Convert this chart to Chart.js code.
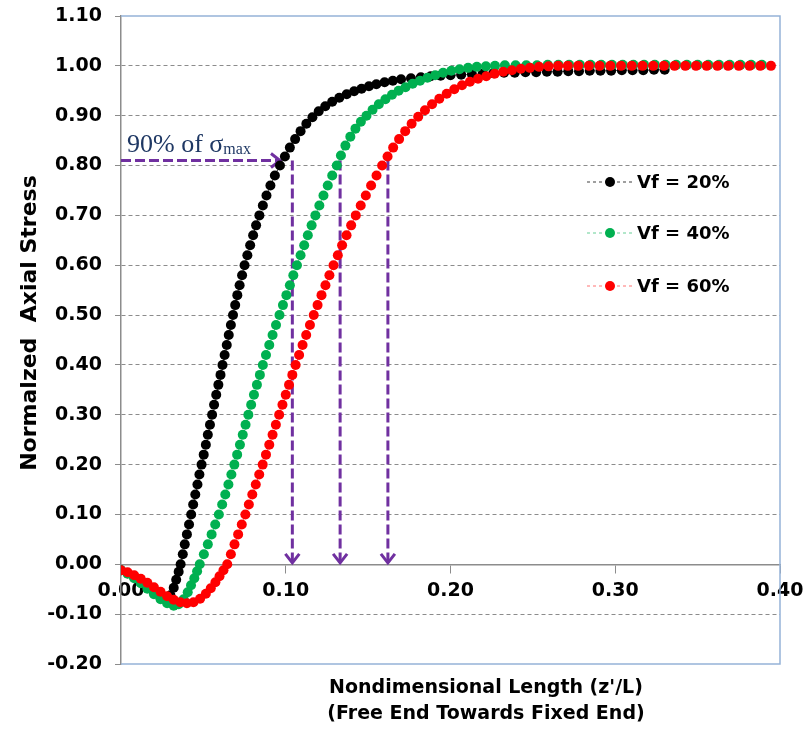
<!DOCTYPE html>
<html>
<head>
<meta charset="utf-8">
<script src="https://cdn.jsdelivr.net/npm/chart.js@4.4.1/dist/chart.umd.min.js"></script>
<style>
  html, body { margin: 0; padding: 0; background: #fff; }
  #wrap { width: 811px; height: 729px; }
</style>
</head>
<body>
<div id="wrap"><canvas id="chart" width="811" height="729"></canvas></div>
<script>
// ---- data ----
const seriesLabels = ['Vf = 20%', 'Vf = 40%', 'Vf = 60%'];

// [z'/L, normalized axial stress]
const vf20 = [
  [0.000,-0.012],[0.004,-0.018],[0.008,-0.026],[0.012,-0.035],[0.016,-0.046],[0.020,-0.057],
  [0.024,-0.066],[0.027,-0.070],[0.030,-0.062],[0.032,-0.047],[0.0335,-0.031],[0.035,-0.015],
  [0.0362,0.000],[0.0375,0.02],[0.0387,0.04],[0.0400,0.06],[0.0413,0.08],[0.0426,0.10],
  [0.0438,0.12],[0.0451,0.14],[0.0464,0.16],[0.0476,0.18],[0.0489,0.20],[0.0502,0.22],
  [0.0515,0.24],[0.0527,0.26],[0.0540,0.28],[0.0553,0.30],[0.0565,0.32],[0.0578,0.34],
  [0.0591,0.36],[0.0604,0.38],[0.0616,0.40],[0.0629,0.42],[0.0642,0.44],[0.0654,0.46],
  [0.0667,0.48],[0.0680,0.50],[0.0693,0.52],[0.0706,0.54],[0.0720,0.56],[0.0735,0.58],
  [0.0750,0.60],[0.0767,0.62],[0.0784,0.64],[0.0802,0.66],[0.0820,0.68],[0.0840,0.70],
  [0.0861,0.72],[0.0883,0.74],[0.0907,0.76],[0.0934,0.78],[0.0965,0.80],[0.0995,0.818],
  [0.1025,0.836],[0.1057,0.853],[0.1090,0.869],[0.1125,0.884],[0.1162,0.897],[0.1200,0.909],
  [0.1240,0.919],[0.1282,0.928],[0.1325,0.936],[0.1370,0.943],[0.1415,0.949],[0.1460,0.954],
  [0.1505,0.959],[0.1550,0.963],[0.1600,0.967],[0.1650,0.970],[0.1700,0.973],[0.1760,0.975],
  [0.1820,0.977],[0.1880,0.979],[0.1940,0.980],[0.2000,0.981],[0.2065,0.982],[0.2130,0.983],
  [0.2195,0.984],[0.2260,0.985],[0.2325,0.986],[0.2390,0.986],[0.2455,0.987],[0.2520,0.987],
  [0.2585,0.988],[0.2650,0.988],[0.2715,0.989],[0.2780,0.989],[0.2845,0.990],[0.2910,0.990],
  [0.2975,0.990],[0.3040,0.991],[0.3105,0.991],[0.3170,0.991],[0.3235,0.992],[0.3300,0.992]
];

const vf40 = [
  [0.000,-0.012],[0.004,-0.019],[0.008,-0.028],[0.012,-0.038],[0.016,-0.049],[0.020,-0.060],
  [0.024,-0.070],[0.028,-0.078],[0.032,-0.083],[0.035,-0.080],[0.038,-0.070],[0.0405,-0.056],
  [0.0425,-0.042],[0.0445,-0.028],[0.0462,-0.014],[0.0478,0.000],[0.0503,0.02],[0.0527,0.04],
  [0.0550,0.06],[0.0572,0.08],[0.0594,0.10],[0.0614,0.12],[0.0633,0.14],[0.0652,0.16],
  [0.0670,0.18],[0.0688,0.20],[0.0705,0.22],[0.0722,0.24],[0.0739,0.26],[0.0756,0.28],
  [0.0773,0.30],[0.0790,0.32],[0.0807,0.34],[0.0825,0.36],[0.0843,0.38],[0.0861,0.40],
  [0.0880,0.42],[0.0900,0.44],[0.0920,0.46],[0.0941,0.48],[0.0962,0.50],[0.0983,0.52],
  [0.1004,0.54],[0.1025,0.56],[0.1046,0.58],[0.1068,0.60],[0.1090,0.62],[0.1112,0.64],
  [0.1134,0.66],[0.1157,0.68],[0.1180,0.70],[0.1204,0.72],[0.1229,0.74],[0.1255,0.76],
  [0.1282,0.78],[0.1310,0.80],[0.1335,0.820],[0.1362,0.840],[0.1392,0.858],[0.1423,0.874],
  [0.1456,0.888],[0.1490,0.900],[0.1527,0.912],[0.1565,0.923],[0.1605,0.933],[0.1645,0.942],
  [0.1685,0.950],[0.1727,0.957],[0.1770,0.964],[0.1815,0.970],[0.1860,0.976],[0.1907,0.981],
  [0.1955,0.986],[0.2005,0.990],[0.2055,0.993],[0.2107,0.996],[0.2160,0.998],[0.2215,0.999],
  [0.2270,1.000],[0.2330,1.001],[0.2395,1.001],[0.2460,1.001],[0.2525,1.001],[0.2590,1.002],
  [0.2655,1.002],[0.2720,1.002],[0.2785,1.002],[0.2850,1.002],[0.2915,1.002],[0.2980,1.002],
  [0.3045,1.002],[0.3110,1.002],[0.3175,1.002],[0.3240,1.002],[0.3305,1.002],[0.3370,1.002],
  [0.3435,1.002],[0.3500,1.002],[0.3565,1.002],[0.3630,1.002],[0.3695,1.002],[0.3760,1.002],
  [0.3825,1.002],[0.3890,1.002]
];

const vf60 = [
  [0.000,-0.012],[0.004,-0.016],[0.008,-0.022],[0.012,-0.029],[0.016,-0.037],[0.020,-0.046],
  [0.024,-0.055],[0.028,-0.064],[0.032,-0.071],[0.036,-0.076],[0.040,-0.078],[0.044,-0.076],
  [0.048,-0.069],[0.0515,-0.059],[0.0545,-0.048],[0.0573,-0.036],[0.0598,-0.024],[0.0622,-0.012],
  [0.0645,0.000],[0.0667,0.02],[0.0689,0.04],[0.0711,0.06],[0.0733,0.08],[0.0755,0.10],
  [0.0776,0.12],[0.0797,0.14],[0.0818,0.16],[0.0839,0.18],[0.0860,0.20],[0.0880,0.22],
  [0.0900,0.24],[0.0920,0.26],[0.0940,0.28],[0.0960,0.30],[0.0980,0.32],[0.1000,0.34],
  [0.1020,0.36],[0.1040,0.38],[0.1060,0.40],[0.1081,0.42],[0.1102,0.44],[0.1124,0.46],
  [0.1147,0.48],[0.1170,0.50],[0.1193,0.52],[0.1217,0.54],[0.1241,0.56],[0.1265,0.58],
  [0.1290,0.60],[0.1316,0.62],[0.1342,0.64],[0.1369,0.66],[0.1397,0.68],[0.1425,0.70],
  [0.1455,0.72],[0.1486,0.74],[0.1518,0.76],[0.1551,0.78],[0.1585,0.80],[0.1618,0.818],
  [0.1652,0.836],[0.1688,0.853],[0.1725,0.869],[0.1764,0.884],[0.1804,0.898],[0.1845,0.911],
  [0.1888,0.923],[0.1932,0.934],[0.1977,0.944],[0.2023,0.953],[0.2070,0.961],[0.2118,0.968],
  [0.2167,0.974],[0.2217,0.979],[0.2268,0.984],[0.2320,0.988],[0.2373,0.991],[0.2427,0.994],
  [0.2482,0.996],[0.2538,0.998],[0.2595,0.999],[0.2653,1.000],[0.2712,1.000],[0.2775,1.000],
  [0.2840,1.000],[0.2905,1.000],[0.2970,1.000],[0.3035,1.000],[0.3100,1.000],[0.3165,1.000],
  [0.3230,1.000],[0.3295,1.000],[0.3360,1.000],[0.3425,1.000],[0.3490,1.000],[0.3555,1.000],
  [0.3620,1.000],[0.3685,1.000],[0.3750,1.000],[0.3815,1.000],[0.3880,1.000],[0.3945,1.000]
];

// axes
const xMin = 0, xMax = 0.40, xStep = 0.10;
const yMin = -0.20, yMax = 1.10, yStep = 0.10;

// "90% of sigma max" guide arrows
const guideLevel = 0.81;
const guideHorizontalEnd = 0.0965;
const guideDropX = [0.104, 0.133, 0.162];
const guideDropEnd = 0.003;

const seriesColors = ['#000000', '#00b050', '#ff0000'];
const lineColors = ['rgba(0,0,0,0.75)', 'rgba(0,176,80,0.6)', 'rgba(255,0,0,0.55)'];
const PURPLE = '#7030a0';
const GRID = '#8c8c8c';
const FONT = '"DejaVu Sans", sans-serif';

function arrow(ctx, x1, y1, x2, y2) {
  ctx.save();
  ctx.strokeStyle = PURPLE;
  ctx.lineWidth = 3;
  ctx.setLineDash([10, 4]);
  ctx.beginPath();
  ctx.moveTo(x1, y1);
  ctx.lineTo(x2, y2);
  ctx.stroke();
  // open chevron head
  const len = Math.hypot(x2 - x1, y2 - y1);
  const dx = (x2 - x1) / len, dy = (y2 - y1) / len;
  const nx = -dy, ny = dx;
  ctx.setLineDash([]);
  ctx.lineJoin = 'miter';
  ctx.beginPath();
  ctx.moveTo(x2 - dx * 9 + nx * 7, y2 - dy * 9 + ny * 7);
  ctx.lineTo(x2, y2);
  ctx.lineTo(x2 - dx * 9 - nx * 7, y2 - dy * 9 - ny * 7);
  ctx.stroke();
  ctx.restore();
}

const decorations = {
  id: 'decorations',
  beforeDatasetsDraw(chart) {
    const { ctx, chartArea: a, scales: { x, y } } = chart;
    // plot frame (top, right, bottom)
    ctx.save();
    ctx.strokeStyle = '#95b3d7';
    ctx.lineWidth = 1.5;
    ctx.beginPath();
    ctx.moveTo(a.left, a.top);
    ctx.lineTo(a.right, a.top);
    ctx.lineTo(a.right, a.bottom);
    ctx.lineTo(a.left, a.bottom);
    ctx.stroke();
    ctx.restore();

    const gy = y.getPixelForValue(guideLevel);
    arrow(ctx, x.getPixelForValue(0), gy, x.getPixelForValue(guideHorizontalEnd), gy);
    guideDropX.forEach(v => {
      const px = x.getPixelForValue(v);
      arrow(ctx, px, gy, px, y.getPixelForValue(guideDropEnd));
    });

    ctx.save();
    ctx.fillStyle = '#1f3864';
    ctx.textBaseline = 'alphabetic';
    ctx.font = '26px "Liberation Serif", serif';
    const tx = a.left + 6, ty = gy - 9;
    ctx.fillText('90% of σ', tx, ty);
    const w = ctx.measureText('90% of σ').width;
    ctx.font = '16px "Liberation Serif", serif';
    ctx.fillText('max', tx + w, ty + 2);
    ctx.restore();
  },
  afterDatasetsDraw(chart) {
    const { ctx, chartArea: a } = chart;
    const rows = [166, 217, 270];
    chart.data.datasets.forEach((ds, i) => {
      const yy = a.top + rows[i];
      const x0 = a.right - 193;
      ctx.save();
      ctx.strokeStyle = lineColors[i];
      ctx.lineWidth = 1;
      ctx.setLineDash([3, 3]);
      ctx.beginPath();
      ctx.moveTo(x0, yy);
      ctx.lineTo(x0 + 45, yy);
      ctx.stroke();
      ctx.setLineDash([]);
      ctx.fillStyle = seriesColors[i];
      ctx.beginPath();
      ctx.arc(x0 + 23, yy, 5, 0, Math.PI * 2);
      ctx.fill();
      ctx.fillStyle = '#000';
      ctx.font = 'bold 18px ' + FONT;
      ctx.textBaseline = 'middle';
      ctx.fillText(ds.label, x0 + 50, yy + 1);
      ctx.restore();
    });
  },
  afterDraw(chart) {
    const { ctx, chartArea: a } = chart;
    ctx.save();
    ctx.fillStyle = '#000';
    ctx.textAlign = 'center';
    ctx.textBaseline = 'middle';
    ctx.font = 'bold 19px ' + FONT;
    ctx.fillText("Nondimensional Length (z'/L)", a.left + 365, a.bottom + 24);
    ctx.fillText('(Free End Towards Fixed End)', a.left + 365, a.bottom + 50);
    ctx.translate(30, a.top + 307);
    ctx.rotate(-Math.PI / 2);
    ctx.font = 'bold 22px ' + FONT;
    ctx.fillText('Normalzed  Axial Stress', 0, 0);
    ctx.restore();
  }
};

const allSeries = [vf20, vf40, vf60];

new Chart(document.getElementById('chart'), {
  type: 'scatter',
  data: {
    datasets: allSeries.map((pts, i) => ({
      label: seriesLabels[i],
      data: pts.map(p => ({ x: p[0], y: p[1] })),
      showLine: true,
      borderColor: lineColors[i],
      borderWidth: 1,
      borderDash: [3, 3],
      pointRadius: 5,
      pointBackgroundColor: seriesColors[i],
      pointBorderColor: seriesColors[i],
      pointBorderWidth: 0,
      order: 3 - i
    }))
  },
  options: {
    responsive: false,
    animation: false,
    devicePixelRatio: 1,
    events: [],
    layout: { padding: { left: 0, right: 31, top: 16, bottom: 65 } },
    plugins: { legend: { display: false }, tooltip: { enabled: false } },
    scales: {
      x: {
        type: 'linear',
        min: xMin, max: xMax,
        position: { y: 0 },
        afterFit: s => { s.height = 0; },
        ticks: {
          stepSize: xStep,
          padding: 7,
          color: '#000',
          font: { family: FONT, size: 19, weight: 'bold' },
          callback: v => v.toFixed(2)
        },
        grid: { drawOnChartArea: false, drawTicks: true, tickLength: 8, color: GRID },
        border: { color: GRID, width: 1.5 }
      },
      y: {
        type: 'linear',
        min: yMin, max: yMax,
        afterFit: s => { s.width = 121; },
        ticks: {
          stepSize: yStep,
          padding: 13,
          color: '#000',
          // small line height keeps the top/bottom label overhang inside the layout padding
          font: { family: FONT, size: 19, weight: 'bold', lineHeight: 0.3 },
          callback: v => v.toFixed(2)
        },
        grid: {
          tickLength: 6,
          tickColor: GRID,
          color: c => {
            const v = c.tick ? c.tick.value : 0;
            return (Math.abs(v - yMax) < 1e-6 || Math.abs(v - yMin) < 1e-6) ? 'rgba(0,0,0,0)' : GRID;
          }
        },
        border: { color: GRID, width: 1.5, dash: [4, 3] }
      }
    }
  },
  plugins: [decorations]
});
</script>
</body>
</html>
